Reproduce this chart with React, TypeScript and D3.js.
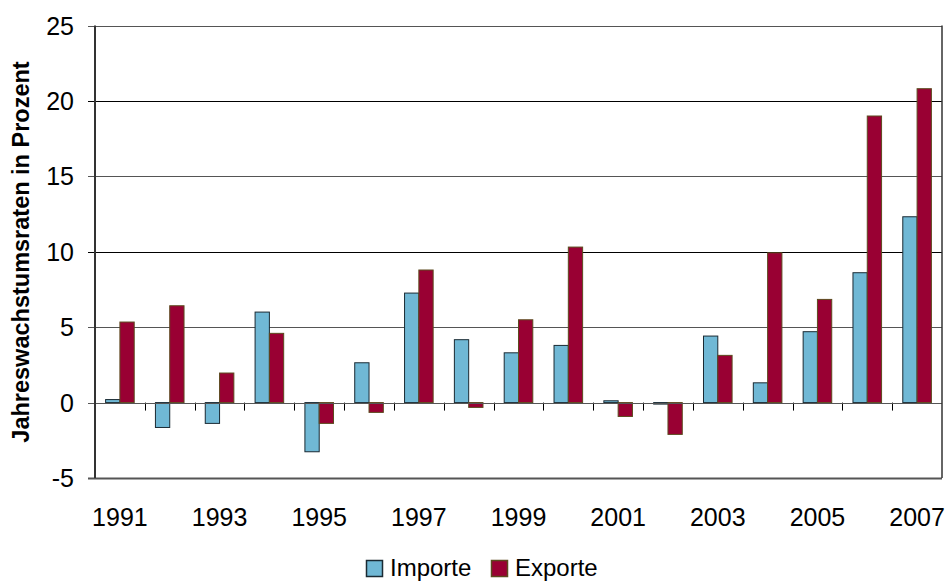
import { useEffect, useRef } from "react";
import * as d3 from "d3";

const years = ["1991", "1992", "1993", "1994", "1995", "1996", "1997", "1998", "1999", "2000", "2001", "2002", "2003", "2004", "2005", "2006", "2007"];
const importe = [0.2, -1.65, -1.38, 6.0, -3.26, 2.64, 7.26, 4.17, 3.3, 3.79, 0.12, -0.1, 4.41, 1.31, 4.7, 8.61, 12.32];
const exporte = [5.34, 6.42, 1.96, 4.59, -1.38, -0.65, 8.79, -0.32, 5.49, 10.31, -0.92, -2.11, 3.13, 9.93, 6.84, 19.0, 20.81];
const yTicks = [-5, 0, 5, 10, 15, 20, 25];
const xLabels = ["1991", "1993", "1995", "1997", "1999", "2001", "2003", "2005", "2007"];
const seriesNames = ["Importe", "Exporte"];

export default function App() {
    const svgRef = useRef<SVGSVGElement | null>(null);

    useEffect(() => {
        const width = 946;
        const height = 582;
        const marginTop = 25.5;
        const marginLeft = 95;
        const marginRight = 4;
        const plotBottom = 478;
        const font = "'Liberation Sans', Arial, sans-serif";
        const impColor = "#70b8d5";
        const expColor = "#990033";

        const svg = d3.select(svgRef.current)
            .attr("width", width)
            .attr("height", height);
        svg.selectAll("*").remove();

        const x = d3.scaleBand()
            .domain(years)
            .range([marginLeft, width - marginRight])
            .paddingInner(0.426)
            .paddingOuter(0.213);

        const y = d3.scaleLinear()
            .domain([-5, 25])
            .range([plotBottom, marginTop]);

        // grid lines
        svg.append("g")
            .selectAll("line")
            .data(yTicks)
            .join("line")
            .attr("x1", marginLeft - 7)
            .attr("x2", width - marginRight)
            .attr("y1", d => Math.round(y(d)) + 0.5)
            .attr("y2", d => Math.round(y(d)) + 0.5)
            .attr("stroke", d => (d === 20 || d === 10 ? "#000" : "#555"))
            .attr("stroke-width", d => (d === -5 ? 2 : 1.2));

        // y tick labels
        svg.append("g")
            .selectAll("text")
            .data(yTicks)
            .join("text")
            .attr("x", 74)
            .attr("y", d => y(d))
            .attr("dy", "0.36em")
            .attr("text-anchor", "end")
            .attr("font-family", font)
            .attr("font-size", 25)
            .text(d => String(d));

        // category boundary ticks below zero
        const boundaries = d3.range(1, years.length).map(i => marginLeft + x.step() * i);
        svg.append("g")
            .selectAll("line")
            .data(boundaries)
            .join("line")
            .attr("x1", d => Math.round(d) + 0.5)
            .attr("x2", d => Math.round(d) + 0.5)
            .attr("y1", y(0))
            .attr("y2", y(0) + 8)
            .attr("stroke", "#000")
            .attr("stroke-width", 1);

        const bw = x.bandwidth() / 2;
        const barGroup = svg.append("g");

        barGroup.selectAll("rect.imp")
            .data(importe)
            .join("rect")
            .attr("class", "imp")
            .attr("x", (_, i) => (x(years[i]) ?? 0))
            .attr("width", bw)
            .attr("y", d => y(Math.max(0, d)))
            .attr("height", d => Math.abs(y(d) - y(0)))
            .attr("fill", impColor)
            .attr("stroke", "#1a2a33")
            .attr("stroke-width", 1);

        barGroup.selectAll("rect.exp")
            .data(exporte)
            .join("rect")
            .attr("class", "exp")
            .attr("x", (_, i) => (x(years[i]) ?? 0) + bw)
            .attr("width", bw)
            .attr("y", d => y(Math.max(0, d)))
            .attr("height", d => Math.abs(y(d) - y(0)))
            .attr("fill", expColor)
            .attr("stroke", "#5c4a1e")
            .attr("stroke-width", 1);

        // zero line
        svg.append("line")
            .attr("x1", marginLeft)
            .attr("x2", width - marginRight)
            .attr("y1", Math.round(y(0)) + 0.5)
            .attr("y2", Math.round(y(0)) + 0.5)
            .attr("stroke", "#555")
            .attr("stroke-width", 1.2);

        // axes frame
        svg.append("line")
            .attr("x1", marginLeft)
            .attr("x2", marginLeft)
            .attr("y1", marginTop)
            .attr("y2", plotBottom)
            .attr("stroke", "#333")
            .attr("stroke-width", 2);
        svg.append("line")
            .attr("x1", width - marginRight)
            .attr("x2", width - marginRight)
            .attr("y1", marginTop)
            .attr("y2", plotBottom)
            .attr("stroke", "#333")
            .attr("stroke-width", 1.5);

        // x labels
        svg.append("g")
            .selectAll("text")
            .data(xLabels)
            .join("text")
            .attr("x", d => (x(d) ?? 0) + x.bandwidth() / 2)
            .attr("y", 526)
            .attr("text-anchor", "middle")
            .attr("font-family", font)
            .attr("font-size", 25)
            .text(d => d);

        // y axis title
        svg.append("text")
            .attr("transform", `translate(29,252) rotate(-90)`)
            .attr("text-anchor", "middle")
            .attr("font-family", font)
            .attr("font-size", 23.5)
            .attr("font-weight", "bold")
            .text("Jahreswachstumsraten in Prozent");

        // legend
        const legend = svg.append("g");
        const legendX = [366, 491];
        const legendColors = [impColor, expColor];
        const legendStroke = ["#1a2a33", "#5c4a1e"];
        seriesNames.forEach((name, i) => {
            legend.append("rect")
                .attr("x", legendX[i] + 0.5)
                .attr("y", 560.5)
                .attr("width", 16)
                .attr("height", 16)
                .attr("fill", legendColors[i])
                .attr("stroke", legendStroke[i])
                .attr("stroke-width", 1.5);
            legend.append("text")
                .attr("x", legendX[i] + 24)
                .attr("y", 576)
                .attr("font-family", font)
                .attr("font-size", 24)
                .text(name);
        });
    }, []);

    return (
        <svg ref={svgRef} style={{ position: "absolute", left: 0, top: 0, background: "#fff" }} />
    );
}
